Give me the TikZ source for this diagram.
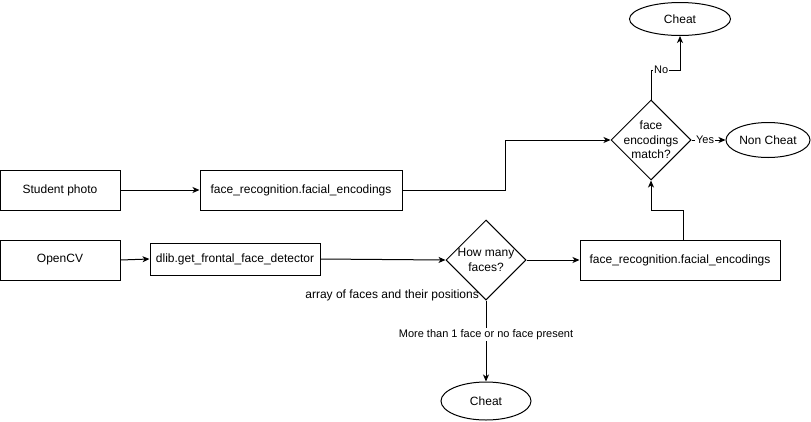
\documentclass[tikz,border=0pt]{standalone}
\usepackage{fontspec}
\setmainfont{Liberation Sans}
\usetikzlibrary{shapes.geometric,arrows.meta}
\begin{document}
\begin{tikzpicture}[x=1pt,y=-1pt,
  every node/.style={font=\fontsize{12}{14.5}\selectfont, inner sep=0pt},
  box/.style={draw, line width=1pt, rectangle, align=center},
  dec/.style={draw, line width=1pt, diamond, aspect=1, minimum width=80pt, minimum height=80pt},
  term/.style={draw, line width=1pt, ellipse, align=center},
  arr/.style={line width=1pt, -{Stealth[length=7pt,width=6pt,inset=2pt]}},
  lbl/.style={fill=white, font=\fontsize{11}{13}\selectfont, inner sep=1pt}]
\useasboundingbox (0,0) rectangle (811,421);
\node[box, minimum width=120pt, minimum height=40pt] (sp) at (60,190) {Student photo};
\node[box, minimum width=202pt, minimum height=40pt] (fr1) at (301,190) {face\_recognition.facial\_encodings};
\node[box, minimum width=120pt, minimum height=40pt] (cv) at (60,260) {OpenCV};
\node[box, minimum width=170pt, minimum height=32pt] (dl) at (235,259) {dlib.get\_frontal\_face\_detector};
\node[dec, label={[align=center]center:How many\\faces?}] (hm) at (486,260) {};
\node[box, minimum width=200pt, minimum height=40pt] (fr2) at (680,260) {face\_recognition.facial\_encodings};
\node[term, minimum width=90pt, minimum height=38pt] (c2) at (486,401) {Cheat};
\node[dec, label={[align=center]center:face\\encodings\\match?}] (fm) at (651,140) {};
\node[term, minimum width=84pt, minimum height=35pt] (nc) at (768,140) {Non Cheat};
\node[term, minimum width=101pt, minimum height=33pt] (c1) at (680,19) {Cheat};
\coordinate (a1) at (505,190);
\coordinate (a2) at (505,140);
\coordinate (b1) at (683,210);
\coordinate (b2) at (651,210);
\coordinate (n1) at (651,70);
\coordinate (n2) at (680,70);
\draw[arr] (sp.east) -- (fr1.west);
\draw[arr] (cv.east) -- (dl.west);
\draw[arr] (dl.east) -- (hm.west);
\draw[arr] (hm.east) -- (fr2.west);
\draw[arr] (hm.south) -- node[lbl, pos=0.42] (ml) {More than 1 face or no face present} (c2.north);
\draw[arr] (fr1.east) -- (a1) -- (a2) -- (fm.west);
\draw[arr] (fr2.north -| b1) -- (b1) -- (b2) -- (fm.south);
\draw[arr] (fm.east) -- node[lbl, pos=0.4] (yl) {Yes} (nc.west);
\draw[arr] (fm.north) -- (n1) -- node[lbl, pos=0.35] (nl) {No} (n2) -- (c1.south);
\node[anchor=east] (ar) at (479,295) {array of faces and their positions};
\end{tikzpicture}
\end{document}
